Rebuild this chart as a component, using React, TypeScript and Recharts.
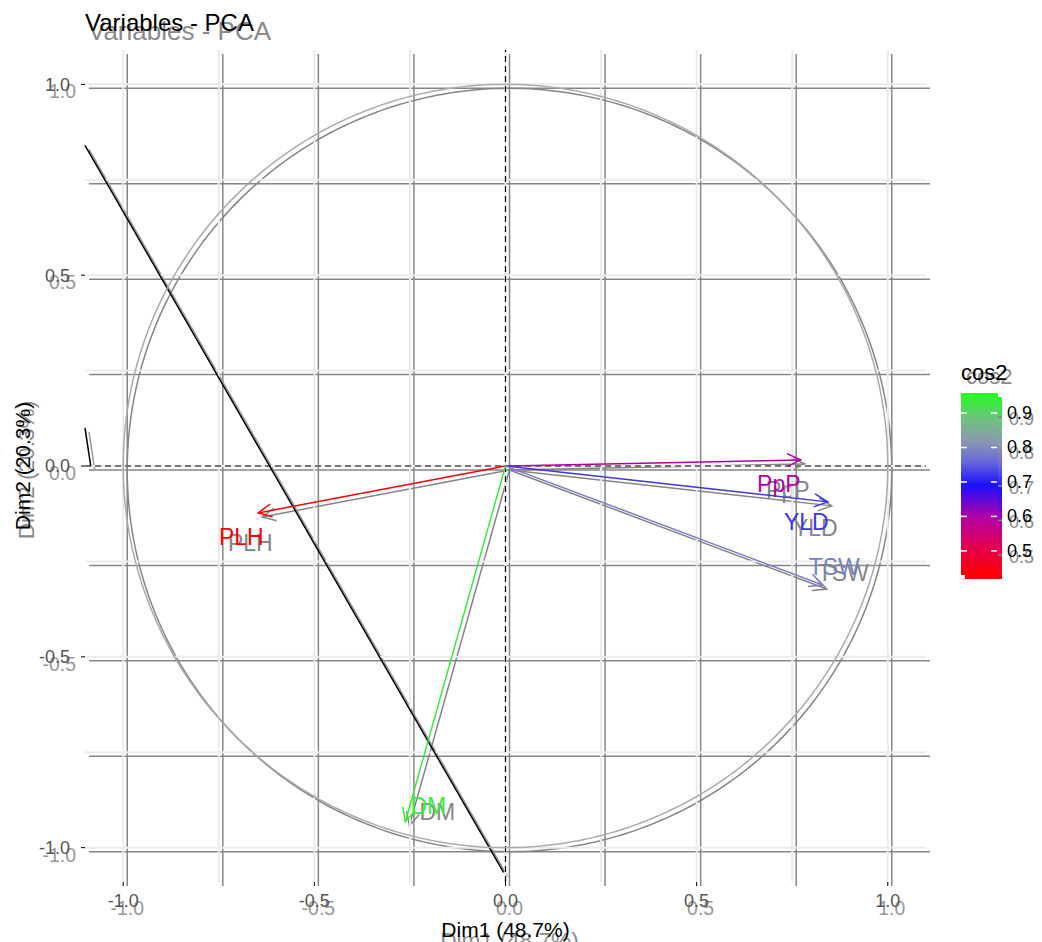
import { ScatterChart, Scatter, XAxis, YAxis, ReferenceLine } from "recharts";

// PCA variable coordinates
const variables = ["PLH", "PpP", "YLD", "TSW", "DM"];
const dim1 = [-0.647, 0.772, 0.843, 0.83, -0.262];
const dim2 = [-0.123, 0.016, -0.094, -0.312, -0.932];
// where the text labels sit
const labelDim1 = [-0.691, 0.715, 0.787, 0.86, -0.202];
const labelDim2 = [-0.186, -0.047, -0.147, -0.264, -0.89];

const axisTicks = [-1, -0.5, 0, 0.5, 1];
const gridValues = [-1, -0.75, -0.5, -0.25, 0, 0.25, 0.5, 0.75, 1];
const legendTicks = [0.5, 0.6, 0.7, 0.8, 0.9];
const legendRange = [0.43, 0.958];

// stray strokes on the left of the panel
const strayLines = [
  [{ x: -1.1, y: 0.84 }, { x: -0.005, y: -1.065 }],
  [{ x: -1.1, y: 0.1 }, { x: -1.085, y: 0.0 }],
];

const gradientStops: [number, string][] = [
  [0.43, "#ff0000"],
  [0.52, "#e0005a"],
  [0.6, "#b000a8"],
  [0.69, "#1a10ff"],
  [0.76, "#6a6ad8"],
  [0.82, "#8a9ab0"],
  [0.88, "#70c080"],
  [0.958, "#22ff22"],
];

function hex(c: string) {
  return [1, 3, 5].map(i => parseInt(c.slice(i, i + 2), 16));
}

function cosColor(v: number) {
  for (let i = 0; i < gradientStops.length - 1; i++) {
    const [a, ca] = gradientStops[i];
    const [b, cb] = gradientStops[i + 1];
    if (v <= b || i === gradientStops.length - 2) {
      const t = Math.max(0, Math.min(1, (v - a) / (b - a)));
      const A = hex(ca), B = hex(cb);
      const m = A.map((x, k) => Math.round(x + (B[k] - x) * t));
      return `rgb(${m[0]},${m[1]},${m[2]})`;
    }
  }
  return gradientStops[0][1];
}

const cos2 = dim1.map((x, i) => x * x + dim2[i] * dim2[i]);

// unit circle guide
const circle = Array.from({ length: 361 }, (_, d) => ({
  x: Math.cos((d * Math.PI) / 180),
  y: Math.sin((d * Math.PI) / 180),
}));

const FONT = "'Liberation Sans', Arial, sans-serif";

interface Look {
  dx: number;
  dy: number;
  ghost: boolean;
}

function arrowShape(color: string) {
  return (p: any) => {
    if (!p.payload || !p.payload.tip) return <g />;
    const { cx, cy } = p;
    const ang = Math.atan2(-p.payload.y, p.payload.x);
    const len = 15;
    const spread = 0.45;
    const x1 = cx - len * Math.cos(ang - spread);
    const y1 = cy - len * Math.sin(ang - spread);
    const x2 = cx - len * Math.cos(ang + spread);
    const y2 = cy - len * Math.sin(ang + spread);
    return (
      <path
        d={`M${x1},${y1} L${cx},${cy} L${x2},${y2}`}
        stroke={color}
        strokeWidth={1.5}
        fill="none"
      />
    );
  };
}

function Layer({ dx, dy, ghost }: Look) {
  const grid = ghost ? "#868686" : "#ebebeb";
  const textCol = ghost ? "#8a8a8a" : "#000";
  const tickCol = ghost ? "#999" : "#555";
  const fs = ghost ? 1.08 : 1;
  return (
    <div style={{ position: "absolute", left: dx, top: dy, fontFamily: FONT }}>
      <ScatterChart
        width={1042}
        height={942}
        margin={{ top: 50, right: 116, bottom: 0, left: 0 }}
      >
        <XAxis
          type="number"
          dataKey="x"
          domain={[-1.1, 1.1]}
          ticks={axisTicks}
          allowDataOverflow
          tickFormatter={(v: number) => v.toFixed(1)}
          axisLine={false}
          tickSize={4}
          tickMargin={ghost ? 11 : 8}
          tickLine={ghost ? false : { stroke: "#000" }}
          tick={{ fill: tickCol, fontSize: 18 * fs }}
          height={60}
          label={{
            value: "Dim1 (48.7%)",
            position: "insideBottom",
            offset: ghost ? -2 : 5,
            fill: textCol,
            fontSize: 21 * fs,
          }}
        />
        <YAxis
          type="number"
          dataKey="y"
          domain={[-1.09, 1.09]}
          ticks={axisTicks}
          allowDataOverflow
          tickFormatter={(v: number) => v.toFixed(1)}
          axisLine={false}
          tickSize={4}
          tickMargin={ghost ? 9 : 11}
          tickLine={ghost ? false : { stroke: "#000" }}
          tick={{ fill: tickCol, fontSize: 18 * fs, dy: ghost ? 3 : 0 }}
          width={85}
          label={{
            value: "Dim2 (20.3%)",
            angle: -90,
            position: "insideLeft",
            offset: ghost ? 22 : 23,
            fill: textCol,
            fontSize: 21 * fs,
            style: { textAnchor: "middle" },
          }}
        />
        {gridValues.map(v => (
          <ReferenceLine key={`gx${v}`} x={v} stroke={grid} strokeWidth={ghost ? 1.5 : 2} />
        ))}
        {gridValues.map(v => (
          <ReferenceLine key={`gy${v}`} y={v} stroke={grid} strokeWidth={ghost ? 1.5 : 2} />
        ))}
        {!ghost && <ReferenceLine x={0} stroke="#000" strokeDasharray="6 4" strokeWidth={1.2} />}
        {!ghost && <ReferenceLine y={0} stroke="#000" strokeDasharray="6 4" strokeWidth={1.2} />}
        <Scatter
          data={circle}
          line={{ stroke: ghost ? "#858585" : "#aaaaaa", strokeWidth: 1.5 }}
          shape={() => <g />}
          isAnimationActive={false}
        />
        {strayLines.map((seg, i) => (
          <ReferenceLine
            key={`s${i}`}
            segment={seg}
            ifOverflow="visible"
            stroke={ghost ? "#9a9a9a" : "#000"}
            strokeWidth={1.5}
          />
        ))}
        {variables.map((name, i) => {
          const col = ghost ? "#858585" : cosColor(cos2[i]);
          return (
            <Scatter
              key={name}
              data={[{ x: 0, y: 0 }, { x: dim1[i], y: dim2[i], tip: true }]}
              line={{ stroke: col, strokeWidth: 1.5 }}
              shape={arrowShape(col)}
              isAnimationActive={false}
            />
          );
        })}
        {variables.map((name, i) => {
          const col = ghost ? "#858585" : cosColor(cos2[i]);
          return (
            <Scatter
              key={`l${name}`}
              data={[{ x: labelDim1[i], y: labelDim2[i], name }]}
              shape={(p: any) => (
                <text
                  x={p.cx + (ghost ? 5 : 0)}
                  y={p.cy + (ghost ? 2 : 0)}
                  textAnchor="middle"
                  dominantBaseline="central"
                  fill={col}
                  fontSize={23}
                >
                  {p.payload.name}
                </text>
              )}
              isAnimationActive={false}
            />
          );
        })}
      </ScatterChart>
      <Overlay ghost={ghost} />
    </div>
  );
}

function Overlay({ ghost }: { ghost: boolean }) {
  const textCol = ghost ? "#8a8a8a" : "#000";
  const [lo, hi] = legendRange;
  const barTop = 393;
  const barBottom = 575;
  const yOf = (v: number) => barBottom - ((v - lo) / (hi - lo)) * (barBottom - barTop);
  const gid = ghost ? "gradB" : "gradA";
  const stops = gradientStops.slice().reverse();
  return (
    <svg
      width={1042}
      height={942}
      style={{ position: "absolute", left: 0, top: 0, pointerEvents: "none" }}
    >
      <defs>
        <linearGradient id={gid} x1="0" y1="0" x2="0" y2="1">
          {stops.map(([v, c]) => (
            <stop key={v} offset={(hi - v) / (hi - lo)} stopColor={c} />
          ))}
        </linearGradient>
      </defs>
      <text
        x={ghost ? 84 : 85}
        y={ghost ? 36 : 31}
        fontSize={ghost ? 26 : 24}
        fill={textCol}
      >
        Variables - PCA
      </text>
      <text x={ghost ? 962 : 961} y={380} fontSize={22} fill={textCol}>
        cos2
      </text>
      <rect x={961} y={barTop} width={37} height={barBottom - barTop} fill={`url(#${gid})`} />
      {legendTicks.map(v => (
        <g key={v}>
          {!ghost && <line x1={961} x2={967} y1={yOf(v)} y2={yOf(v)} stroke="#fff" strokeWidth={1.5} />}
          <line
            x1={ghost ? 993 : 991}
            x2={ghost ? 998 : 997}
            y1={yOf(v)}
            y2={yOf(v)}
            stroke={ghost ? "#888" : "#fff"}
            strokeWidth={1.5}
          />
          <text
            x={ghost ? 1005 : 1007}
            y={yOf(v) + (ghost ? 2 : 0)}
            dominantBaseline="central"
            fontSize={18}
            fill={textCol}
          >
            {v.toFixed(1)}
          </text>
        </g>
      ))}
    </svg>
  );
}

export default function App() {
  return (
    <div
      style={{
        position: "absolute",
        left: 0,
        top: 0,
        width: 1042,
        height: 942,
        background: "#fff",
        overflow: "hidden",
      }}
    >
      <Layer dx={4} dy={4} ghost />
      <Layer dx={0} dy={0} ghost={false} />
    </div>
  );
}
